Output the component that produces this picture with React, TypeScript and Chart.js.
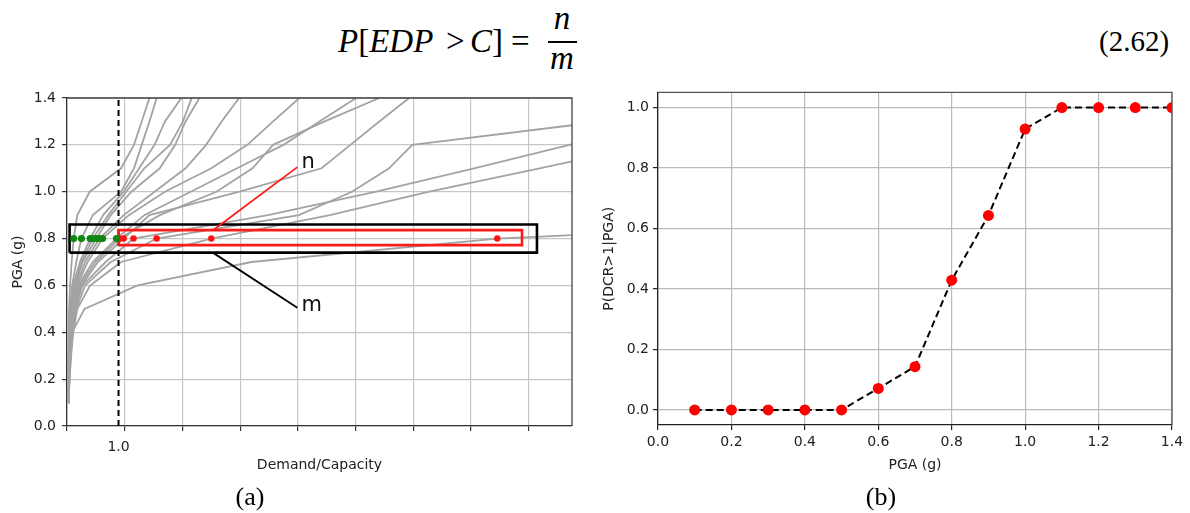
import React, { useEffect, useRef } from "react";
import { Chart, registerables } from "chart.js";

Chart.register(...registerables);

// ---------- data: panel (a) ----------
const PGA_LEVELS = [0.1, 0.2, 0.3, 0.4, 0.5, 0.6, 0.7, 0.8, 0.9, 1.0, 1.1, 1.2, 1.3, 1.4];

// demand/capacity ratio of each record at each PGA level
const REC_01 = [0.02, 0.04, 0.06, 0.1, 0.34, 1.37, 3.58, 8.35, 18, 25, 30, 35, 40, 45];
const REC_02 = [0.03, 0.05, 0.08, 0.12, 0.2, 0.45, 1.05, 2.8, 5.1, 7.03, 9.17, 11.3, 13, 15];
const REC_03 = [0.03, 0.05, 0.07, 0.11, 0.18, 0.35, 0.85, 1.74, 4.5, 5.53, 6.25, 6.7, 10.4, 13];
const REC_04 = [0.02, 0.04, 0.07, 0.1, 0.16, 0.3, 0.75, 1.29, 3.9, 6.0, 7.9, 9.75, 11.6, 13.5];
const REC_05 = [0.02, 0.04, 0.06, 0.09, 0.15, 0.28, 0.6, 1.1, 1.6, 3.35, 4.94, 5.5, 6.06, 6.64];
const REC_06 = [0.02, 0.03, 0.05, 0.08, 0.13, 0.25, 0.55, 1.02, 1.8, 2.9, 3.6, 4.0, 5.0, 6.06];
const REC_07 = [0.02, 0.03, 0.05, 0.07, 0.12, 0.22, 0.5, 0.96, 1.5, 2.4, 3.3, 4.2, 4.9, 5.61];
const REC_08 = [0.01, 0.03, 0.04, 0.06, 0.1, 0.2, 0.4, 0.69, 1.2, 1.9, 2.8, 3.5, 4.0, 4.51];
const REC_09 = [0.02, 0.03, 0.05, 0.07, 0.1, 0.18, 0.35, 0.63, 1.1, 1.7, 2.3, 2.7, 3.0, 3.34];
const REC_10 = [0.01, 0.02, 0.04, 0.06, 0.09, 0.16, 0.3, 0.57, 0.85, 1.25, 1.8, 2.1, 2.3, 2.57];
const REC_11 = [0.01, 0.02, 0.03, 0.05, 0.08, 0.14, 0.28, 0.5, 0.8, 1.15, 1.5, 2.0, 2.25, 2.42];
const REC_12 = [0.01, 0.02, 0.03, 0.05, 0.07, 0.12, 0.25, 0.45, 0.7, 1.1, 1.4, 1.7, 1.9, 2.22];
const REC_13 = [0.01, 0.02, 0.03, 0.04, 0.06, 0.1, 0.18, 0.28, 0.5, 1.05, 1.3, 1.45, 1.6, 1.74];
const REC_14 = [0.01, 0.01, 0.02, 0.03, 0.04, 0.06, 0.09, 0.13, 0.2, 0.44, 1.05, 1.3, 1.45, 1.6];
const RECORDS = [REC_01, REC_02, REC_03, REC_04, REC_05, REC_06, REC_07, REC_08, REC_09, REC_10, REC_11, REC_12, REC_13, REC_14];

const CONDITION_PGA = 0.8;
const DC_LIMIT = 1.0;

const X_MIN_A = 0;
const X_MAX_A = 9.8;
const X_GRID_A = [0, 1.12, 2.24, 3.36, 4.48, 5.6, 6.72, 7.84, 8.96];
const X_LABELED_A = [1.0];
const Y_TICKS_A = [0, 0.2, 0.4, 0.6, 0.8, 1.0, 1.2, 1.4];

const OUTER_BOX_DC = [0.05, 9.12];
const OUTER_BOX_PGA = [0.74, 0.86];
const INNER_BOX_DC = [1.0, 8.83];
const INNER_BOX_PGA = [0.772, 0.836];
const N_LEADER_DC = [2.86, 4.47];
const N_LEADER_PGA = [0.84, 1.105];
const M_LEADER_DC = [2.83, 4.47];
const M_LEADER_PGA = [0.74, 0.505];
const N_LABEL = { dc: 4.55, pga: 1.125, text: "n" };
const M_LABEL = { dc: 4.55, pga: 0.515, text: "m" };

// ---------- data: panel (b) ----------
const PGA_B = [0.1, 0.2, 0.3, 0.4, 0.5, 0.6, 0.7, 0.8, 0.9, 1.0, 1.1, 1.2, 1.3, 1.4];
const P_EXCEED = [0, 0, 0, 0, 0, 0.071, 0.143, 0.429, 0.643, 0.929, 1, 1, 1, 1];
const X_TICKS_B = [0, 0.2, 0.4, 0.6, 0.8, 1.0, 1.2, 1.4];
const Y_TICKS_B = [0, 0.2, 0.4, 0.6, 0.8, 1.0];

const FONT = '"DejaVu Sans", sans-serif';
const TICK_FONT = { family: FONT, size: 14 };
const TEXT_COLOR = "#222";

const framePlugin = (color: string) => ({
  id: "frame",
  afterDatasetsDraw(chart: any) {
    const { ctx, chartArea } = chart;
    ctx.save();
    ctx.strokeStyle = color;
    ctx.lineWidth = 1.3;
    ctx.beginPath();
    ctx.moveTo(chartArea.left, chartArea.top);
    ctx.lineTo(chartArea.right, chartArea.top);
    ctx.lineTo(chartArea.right, chartArea.bottom);
    ctx.stroke();
    ctx.restore();
  },
});

const labelPlugin = {
  id: "leaderLabels",
  afterDatasetsDraw(chart: any) {
    const { ctx, scales } = chart;
    ctx.save();
    ctx.font = `21px ${FONT}`;
    ctx.fillStyle = "#111";
    ctx.textAlign = "left";
    ctx.textBaseline = "middle";
    for (const l of [N_LABEL, M_LABEL]) {
      ctx.fillText(l.text, scales.x.getPixelForValue(l.dc), scales.y.getPixelForValue(l.pga));
    }
    ctx.restore();
  },
};

const boxPath = (xs: number[], ys: number[]) => [
  { x: xs[0], y: ys[0] },
  { x: xs[1], y: ys[0] },
  { x: xs[1], y: ys[1] },
  { x: xs[0], y: ys[1] },
  { x: xs[0], y: ys[0] },
];

function buildConfigA(): any {
  const ci = PGA_LEVELS.indexOf(CONDITION_PGA);
  const green = RECORDS.filter((r) => r[ci] <= DC_LIMIT).map((r) => ({ x: r[ci], y: CONDITION_PGA }));
  const red = RECORDS.filter((r) => r[ci] > DC_LIMIT).map((r) => ({ x: r[ci], y: CONDITION_PGA }));
  const datasets: any[] = [
    { data: green, showLine: false, pointRadius: 3.6, pointBackgroundColor: "#118811", pointBorderWidth: 0, order: 0 },
    { data: red, showLine: false, pointRadius: 3.2, pointBackgroundColor: "#ff1010", pointBorderWidth: 0, order: 0 },
    { data: boxPath(INNER_BOX_DC, INNER_BOX_PGA), borderColor: "#ff1a1a", borderWidth: 2.6, pointRadius: 0, order: 1 },
    { data: boxPath(OUTER_BOX_DC, OUTER_BOX_PGA), borderColor: "#000", borderWidth: 2.6, pointRadius: 0, order: 2 },
    { data: N_LEADER_DC.map((x, i) => ({ x, y: N_LEADER_PGA[i] })), borderColor: "#ff1a1a", borderWidth: 1.8, pointRadius: 0, order: 1 },
    { data: M_LEADER_DC.map((x, i) => ({ x, y: M_LEADER_PGA[i] })), borderColor: "#000", borderWidth: 1.8, pointRadius: 0, order: 1 },
    {
      data: [{ x: DC_LIMIT, y: Y_TICKS_A[0] }, { x: DC_LIMIT, y: Y_TICKS_A[Y_TICKS_A.length - 1] }],
      borderColor: "#000", borderWidth: 2, borderDash: [6, 4], pointRadius: 0, order: 1,
    },
    ...RECORDS.map((r) => ({
      data: PGA_LEVELS.map((p, i) => ({ x: r[i], y: p })),
      borderColor: "#a3a3a3", borderWidth: 1.8, pointRadius: 0, order: 5,
    })),
  ];
  return {
    type: "line",
    data: { datasets },
    options: {
      animation: false,
      responsive: false,
      events: [],
      layout: { padding: { left: 0, top: 18, right: 18, bottom: 0 } },
      plugins: { legend: { display: false }, tooltip: { enabled: false } },
      scales: {
        x: {
          type: "linear",
          min: X_MIN_A,
          max: X_MAX_A,
          afterBuildTicks: (s: any) => {
            s.ticks = [...X_GRID_A, ...X_LABELED_A].sort((a, b) => a - b).map((v) => ({ value: v }));
          },
          afterFit: (s: any) => { s.height = 74; },
          ticks: {
            autoSkip: false, maxRotation: 0, padding: 8, font: TICK_FONT, color: TEXT_COLOR,
            callback: (v: number) => (X_LABELED_A.includes(v) ? v.toFixed(1) : ""),
          },
          grid: {
            color: (c: any) => (c.tick && X_LABELED_A.includes(c.tick.value) ? "rgba(0,0,0,0)" : "#c6c6c6"),
            tickColor: (c: any) => (c.tick && X_LABELED_A.includes(c.tick.value) ? "rgba(0,0,0,0)" : "#333"),
            tickLength: 5, lineWidth: 1.2,
          },
          border: { color: "#333", width: 1.3 },
          title: { display: true, text: "Demand/Capacity", font: TICK_FONT, color: TEXT_COLOR, padding: { top: 0, bottom: 26 } },
        },
        y: {
          type: "linear",
          min: 0,
          max: 1.4,
          afterBuildTicks: (s: any) => { s.ticks = Y_TICKS_A.map((v) => ({ value: v })); },
          afterFit: (s: any) => { s.width = 67; },
          ticks: { padding: 6, font: TICK_FONT, color: TEXT_COLOR, callback: (v: number) => Number(v).toFixed(1) },
          grid: { color: "#c6c6c6", tickColor: "#333", tickLength: 5, lineWidth: 1.2 },
          border: { color: "#333", width: 1.3 },
          title: { display: true, text: "PGA (g)", font: TICK_FONT, color: TEXT_COLOR, padding: { top: 10, bottom: 0 } },
        },
      },
    },
    plugins: [framePlugin("#444"), labelPlugin],
  };
}

function buildConfigB(): any {
  return {
    type: "line",
    data: {
      datasets: [
        {
          data: PGA_B.map((x, i) => ({ x, y: P_EXCEED[i] })),
          borderColor: "#000", borderWidth: 2, borderDash: [7, 4],
          pointRadius: 5.5, pointBackgroundColor: "#ff0000", pointBorderColor: "#ff0000", pointBorderWidth: 0,
        },
      ],
    },
    options: {
      animation: false,
      responsive: false,
      events: [],
      layout: { padding: { left: 0, top: 10, right: 18, bottom: 0 } },
      plugins: { legend: { display: false }, tooltip: { enabled: false } },
      scales: {
        x: {
          type: "linear",
          min: 0,
          max: 1.4,
          afterBuildTicks: (s: any) => { s.ticks = X_TICKS_B.map((v) => ({ value: v })); },
          afterFit: (s: any) => { s.height = 75; },
          ticks: { autoSkip: false, maxRotation: 0, padding: 4, font: TICK_FONT, color: TEXT_COLOR, callback: (v: number) => Number(v).toFixed(1) },
          grid: { color: "#bababa", tickColor: "#222", tickLength: 5, lineWidth: 1.2 },
          border: { color: "#222", width: 1.3 },
          title: { display: true, text: "PGA (g)", font: TICK_FONT, color: TEXT_COLOR, padding: { top: 0, bottom: 26 } },
        },
        y: {
          type: "linear",
          min: -0.05,
          max: 1.05,
          afterBuildTicks: (s: any) => { s.ticks = Y_TICKS_B.map((v) => ({ value: v })); },
          afterFit: (s: any) => { s.width = 63; },
          ticks: { padding: 4, font: TICK_FONT, color: TEXT_COLOR, callback: (v: number) => Number(v).toFixed(1) },
          grid: { color: "#bababa", tickColor: "#222", tickLength: 5, lineWidth: 1.2 },
          border: { color: "#222", width: 1.3 },
          title: { display: true, text: "P(DCR>1|PGA)", font: TICK_FONT, color: TEXT_COLOR, padding: { top: 6, bottom: 0 } },
        },
      },
    },
    plugins: [framePlugin("#555")],
  };
}

const serif = '"Liberation Serif", "Times New Roman", serif';
const eqText = (left: number, top: number, child: React.ReactNode, size = 33) => (
  <div style={{ position: "absolute", left, top, fontFamily: serif, fontSize: size, lineHeight: `${size}px`, whiteSpace: "pre" }}>{child}</div>
);

export default function App() {
  const refA = useRef<HTMLCanvasElement>(null);
  const refB = useRef<HTMLCanvasElement>(null);

  useEffect(() => {
    const a = new Chart(refA.current as HTMLCanvasElement, buildConfigA());
    const b = new Chart(refB.current as HTMLCanvasElement, buildConfigB());
    return () => {
      a.destroy();
      b.destroy();
    };
  }, []);

  return (
    <div style={{ position: "absolute", left: 0, top: 0, width: 1190, height: 513, background: "#fff", overflow: "hidden", color: "#000" }}>
      {eqText(338, 25, <span><i>P</i>[<i>EDP</i></span>)}
      {eqText(446, 25, <span>&gt;</span>)}
      {eqText(470, 25, <span><i>C</i>]</span>)}
      {eqText(511, 25, <span>=</span>)}
      <div style={{ position: "absolute", left: 547, top: 2, width: 30, textAlign: "center", fontFamily: serif, fontSize: 33, lineHeight: "33px" }}>
        <i>n</i>
      </div>
      <div style={{ position: "absolute", left: 548, top: 41, width: 29, height: 2, background: "#000" }} />
      <div style={{ position: "absolute", left: 547, top: 42, width: 30, textAlign: "center", fontFamily: serif, fontSize: 33, lineHeight: "33px" }}>
        <i>m</i>
      </div>
      {eqText(1099, 27, <span>(2.62)</span>, 29)}

      <canvas ref={refA} width={590} height={420} style={{ position: "absolute", left: 0, top: 80, width: 590, height: 420 }} />
      <canvas ref={refB} width={595} height={420} style={{ position: "absolute", left: 595, top: 80, width: 595, height: 420 }} />

      <div style={{ position: "absolute", left: 200, top: 482, width: 100, textAlign: "center", fontFamily: serif, fontSize: 26, lineHeight: "30px" }}>(a)</div>
      <div style={{ position: "absolute", left: 831, top: 482, width: 100, textAlign: "center", fontFamily: serif, fontSize: 26, lineHeight: "30px" }}>(b)</div>
    </div>
  );
}
